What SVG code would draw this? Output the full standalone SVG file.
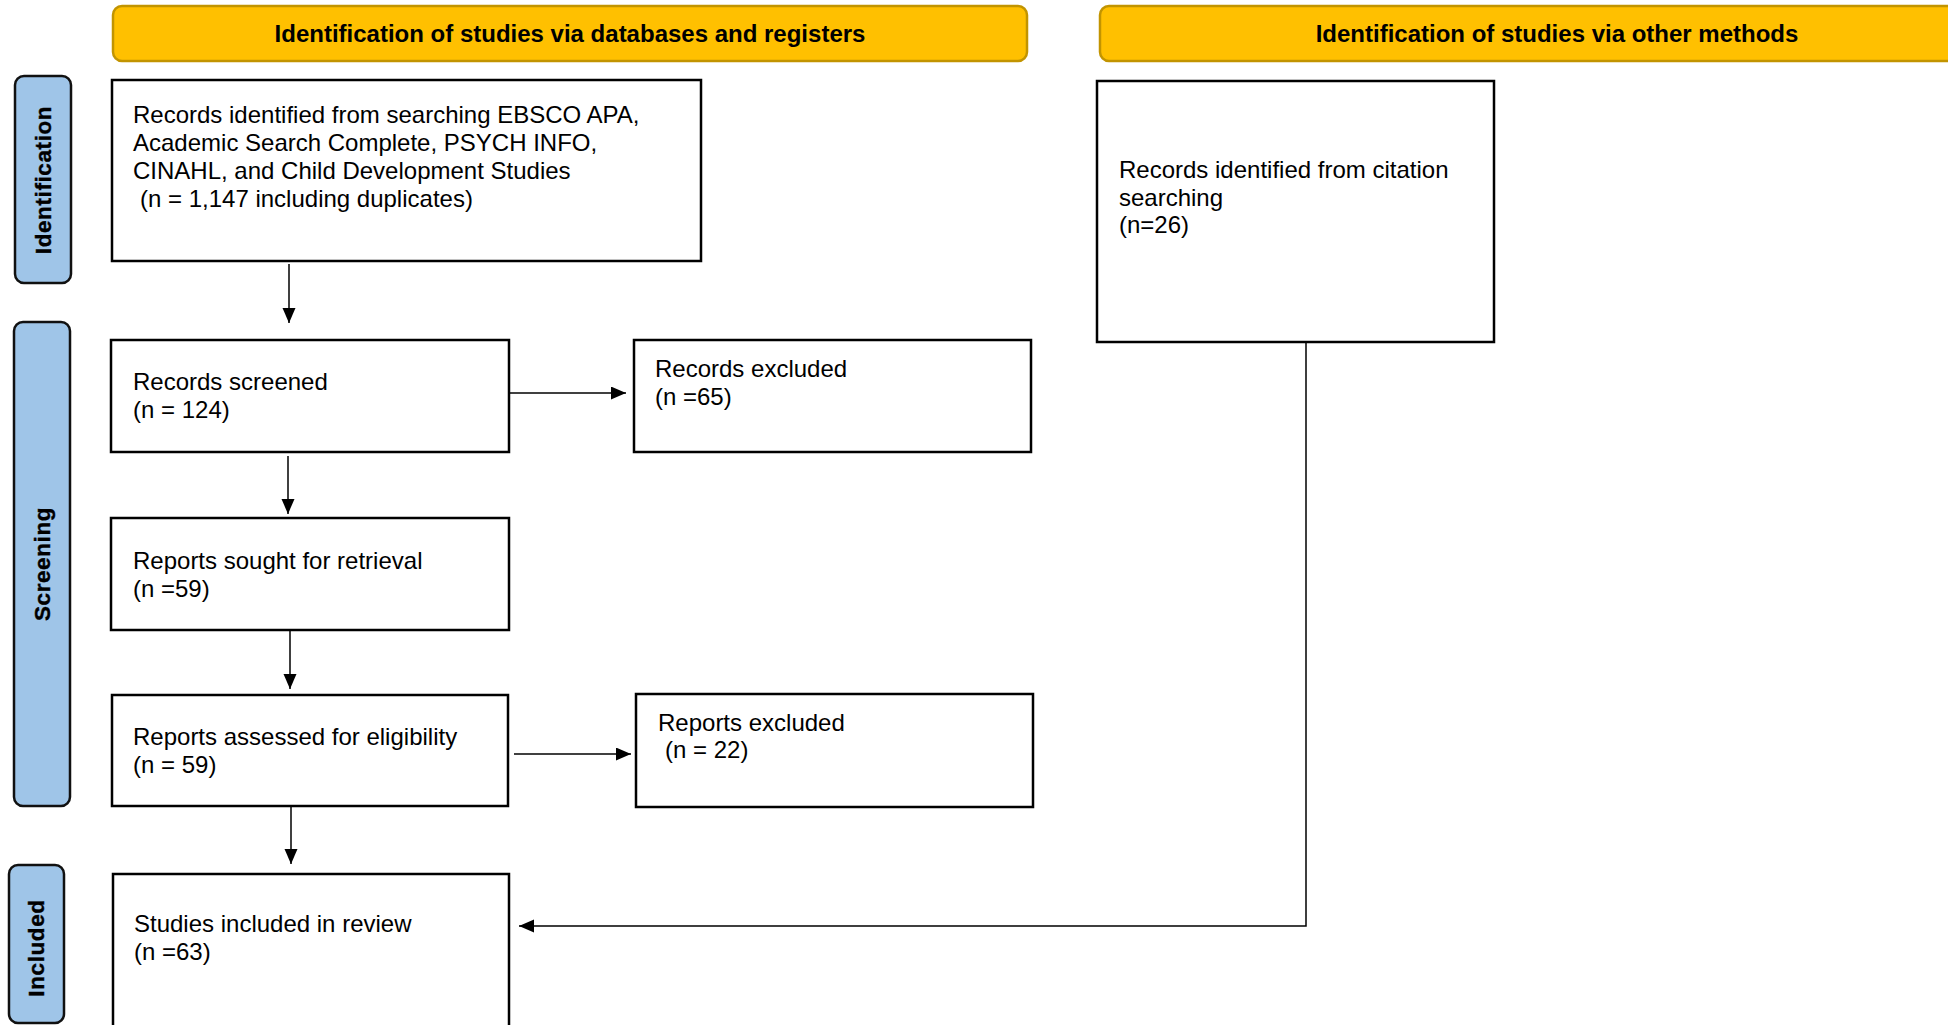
<svg xmlns="http://www.w3.org/2000/svg" width="1948" height="1025" viewBox="0 0 1948 1025">
<style>
.hdr{fill:#FFC000;stroke:#C29400;stroke-width:2.5}
.hdrt{font-family:"Liberation Sans",Arial,sans-serif;font-size:24px;font-weight:bold;fill:#000;text-anchor:middle}
.side{fill:#9FC5E8;stroke:#111;stroke-width:2.5}
.sidet{font-family:"Liberation Sans",Arial,sans-serif;font-size:22.5px;font-weight:bold;letter-spacing:0.6px;fill:#000;text-anchor:middle;stroke:#000;stroke-width:0.4}
.box{fill:#fff;stroke:#000;stroke-width:2.5}
.t{font-family:"Liberation Sans",Arial,sans-serif;font-size:24px;fill:#000}
.c{fill:none;stroke:#000;stroke-width:1.5}
</style>
<defs>
<marker id="ah" markerUnits="userSpaceOnUse" markerWidth="17" markerHeight="15" refX="15" refY="6.5" orient="auto">
<path d="M0,0 L15,6.5 L0,13 Z" fill="#000"/>
</marker>
</defs>
<g id="header-databases">
<rect class="hdr" x="113" y="6" width="914" height="55" rx="9"/>
<text class="hdrt" x="570" y="42">Identification of studies via databases and registers</text>
</g>
<g id="header-other">
<rect class="hdr" x="1100" y="6" width="914" height="55" rx="9"/>
<text class="hdrt" x="1557" y="42">Identification of studies via other methods</text>
</g>
<g id="label-identification">
<rect class="side" x="15" y="76" width="56" height="207" rx="9"/>
<text class="sidet" transform="translate(51,180) rotate(-90)">Identification</text>
</g>
<g id="label-screening">
<rect class="side" x="14" y="322" width="56" height="484" rx="9"/>
<text class="sidet" transform="translate(50,564) rotate(-90)">Screening</text>
</g>
<g id="label-included">
<rect class="side" x="9" y="865" width="55" height="158" rx="9"/>
<text class="sidet" transform="translate(44,948) rotate(-90)">Included</text>
</g>
<g id="records-identified">
<rect class="box" x="112" y="80" width="589" height="181"/>
<text class="t" x="133" y="123">Records identified from searching EBSCO APA,</text>
<text class="t" x="133" y="151">Academic Search Complete, PSYCH INFO,</text>
<text class="t" x="133" y="179">CINAHL, and Child Development Studies</text>
<text class="t" x="140" y="207">(n = 1,147 including duplicates)</text>
</g>
<g id="records-citation">
<rect class="box" x="1097" y="81" width="397" height="261"/>
<text class="t" x="1119" y="178">Records identified from citation</text>
<text class="t" x="1119" y="206">searching</text>
<text class="t" x="1119" y="233">(n=26)</text>
</g>
<g id="records-screened">
<rect class="box" x="111" y="340" width="398" height="112"/>
<text class="t" x="133" y="390">Records screened</text>
<text class="t" x="133" y="418">(n = 124)</text>
</g>
<g id="records-excluded">
<rect class="box" x="634" y="340" width="397" height="112"/>
<text class="t" x="655" y="377">Records excluded</text>
<text class="t" x="655" y="405">(n =65)</text>
</g>
<g id="reports-sought">
<rect class="box" x="111" y="518" width="398" height="112"/>
<text class="t" x="133" y="569">Reports sought for retrieval</text>
<text class="t" x="133" y="597">(n =59)</text>
</g>
<g id="reports-assessed">
<rect class="box" x="112" y="695" width="396" height="111"/>
<text class="t" x="133" y="745">Reports assessed for eligibility</text>
<text class="t" x="133" y="773">(n = 59)</text>
</g>
<g id="reports-excluded">
<rect class="box" x="636" y="694" width="397" height="113"/>
<text class="t" x="658" y="731">Reports excluded</text>
<text class="t" x="665" y="758">(n = 22)</text>
</g>
<g id="studies-included">
<rect class="box" x="113" y="874" width="396" height="160"/>
<text class="t" x="134" y="932">Studies included in review</text>
<text class="t" x="134" y="960">(n =63)</text>
</g>
<g id="connectors">
<path class="c" d="M289,264 V323" marker-end="url(#ah)"/>
<path class="c" d="M509,393 H626" marker-end="url(#ah)"/>
<path class="c" d="M288,456 V514" marker-end="url(#ah)"/>
<path class="c" d="M290,631 V689" marker-end="url(#ah)"/>
<path class="c" d="M514,754 H631" marker-end="url(#ah)"/>
<path class="c" d="M291,806 V864" marker-end="url(#ah)"/>
<path class="c" d="M1306,342 V926 H519" marker-end="url(#ah)"/>
</g>
</svg>
